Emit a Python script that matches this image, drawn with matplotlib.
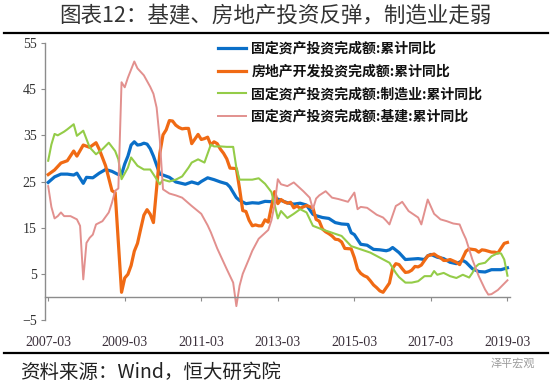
import matplotlib
matplotlib.use("Agg")
import matplotlib.pyplot as plt
from matplotlib.lines import Line2D

# ---- data (month offset from 2007-03, value %) ----
tick_labels = ["2007-03", "2009-03", "2011-03", "2013-03", "2015-03", "2017-03", "2019-03"]
tick_months = [0, 24, 48, 72, 96, 120, 144]
y_ticks = [-5, 5, 15, 25, 35, 45, 55]

labels = ["固定资产投资完成额:累计同比",
          "房地产开发投资完成额:累计同比",
          "固定资产投资完成额:制造业:累计同比",
          "固定资产投资完成额:基建:累计同比"]

fai_m = [0,2,4,6,8,9,11,12,14,16,18,20,22,23,24,25,26,27,28,29,30,31,32,33,35,36,38,40,43,45,
         47,48,50,52,54,56,57,59,60,62,64,66,68,71,72,73,75,77,79,81,83,84,86,88,90,92,94,95,96,98,
         100,102,104,106,107,108,110,112,114,116,118,119,120,122,124,126,128,130,131,133,135,137,139,142,143,144]
fai_v = [24.8,26.0,26.6,26.6,26.4,26.8,24.6,25.9,25.8,26.8,27.6,27.2,26.5,26.5,28.8,30.5,32.9,33.6,32.9,33.0,
         33.3,33.1,32.1,30.5,26.6,26.4,25.9,24.9,24.4,24.9,24.5,25.0,25.8,25.4,24.9,24.5,23.8,21.5,20.9,20.2,
         20.4,20.3,20.7,20.6,21.2,20.9,20.4,20.1,20.3,19.9,17.9,17.6,17.2,17.0,16.1,15.8,15.7,13.9,13.5,11.4,
         11.2,10.3,10.2,10.0,10.2,10.7,9.6,8.1,8.2,8.3,8.1,8.9,9.2,8.6,8.3,7.5,7.2,7.9,7.5,6.1,
         5.5,5.4,5.9,5.9,6.1,6.3]

re_m = [0,2,4,6,8,9,11,13,15,16,18,20,21,23,24,25,26,27,28,29,30,31,32,33,35,36,37,38,39,40,
        41,42,43,44,45,47,48,49,50,51,52,53,54,55,56,57,59,60,61,62,63,64,65,66,67,68,69,71,72,73,
        74,75,76,77,78,79,80,81,83,84,85,86,87,88,89,90,91,92,93,95,96,97,98,99,100,101,102,103,104,105,
        107,108,109,110,111,112,113,114,115,116,117,119,120,121,122,123,124,125,126,127,
        128,129,131,132,133,134,135,136,137,138,139,140,141,143,144]
re_v = [26.5,27.5,29.0,29.5,31.6,30.5,32.9,32.4,33.4,32.0,28.4,23.0,22.6,1.0,4.1,4.9,6.8,9.9,11.6,14.7,
        17.7,18.9,17.9,16.1,31.1,35.1,36.2,38.2,38.1,37.2,36.7,36.4,36.5,36.5,33.2,35.2,34.1,34.3,34.6,32.9,
        33.6,33.2,32.0,31.1,29.9,27.9,27.8,23.5,18.7,18.5,16.6,15.4,15.6,15.4,15.4,16.7,16.2,22.8,20.2,21.1,
        20.6,20.3,20.5,19.3,19.7,19.2,19.5,19.8,19.3,16.8,16.4,14.7,14.1,13.7,13.2,12.5,12.4,11.9,10.5,10.4,
        8.5,6.0,5.1,4.6,4.3,3.5,2.6,2.0,1.3,1.0,3.0,6.2,7.2,7.0,6.1,5.3,5.4,5.8,6.6,6.5,
        6.9,8.9,9.1,9.3,8.8,8.5,7.9,7.9,8.1,7.8,7.5,7.0,9.9,10.4,10.3,10.2,9.7,10.2,10.1,9.9,
        9.7,9.7,9.5,11.6,11.8]

mfg_m = [0,1,2,3,5,6,8,9,11,13,15,17,19,21,22,23,25,26,28,30,32,34,35,36,38,40,42,44,45,47,
         49,51,52,54,56,58,59,60,62,64,66,68,70,71,72,73,75,77,79,81,83,86,89,92,95,98,101,104,107,109,
         110,112,114,116,118,120,121,122,124,126,128,130,132,133,134,135,137,139,141,142,143,144]
mfg_v = [29.5,33.0,35.3,35.0,35.8,36.3,37.4,34.9,36.0,32.4,30.9,32.0,33.4,31.6,29.8,25.5,28.0,30.2,28.4,27.6,
         27.6,25.5,24.4,25.4,25.0,25.4,26.1,28.0,29.1,29.8,29.1,33.0,32.6,32.6,32.5,32.5,28.0,25.4,25.4,25.4,
         25.7,24.5,22.7,20.0,17.0,18.6,17.1,18.0,19.0,18.3,15.4,14.6,13.9,13.2,11.0,10.3,9.6,8.5,7.4,5.2,
         4.3,3.1,3.1,3.4,4.5,4.5,5.6,4.8,5.2,4.5,4.1,4.8,4.2,5.2,6.5,7.1,7.4,8.8,9.5,9.4,
         8.1,4.6]

infra_m = [0,1,2,3,4,5,7,9,10,11,12,13,14,15,17,19,20,21,22,23,24,25,27,28,30,32,33,34,35,36,
           38,40,42,45,48,50,51,53,54,56,58,59,60,61,63,64,66,69,70,71,72,73,75,77,80,82,83,84,85,87,
           89,91,94,96,97,98,100,103,105,106,107,109,110,111,113,116,117,119,121,123,
           125,127,129,130,131,133,135,137,138,139,141,143,144]
infra_v = [24.0,19.5,17.0,17.5,18.3,17.5,17.5,16.8,15.4,3.8,11.7,12.8,13.5,15.7,16.4,18.3,20.4,23.0,23.5,46.5,
           45.4,47.5,51.0,49.5,48.0,45.5,44.0,41.0,34.0,23.3,22.4,22.0,21.5,19.7,18.0,15.5,14.0,10.5,9.0,6.0,
           3.1,-2.0,2.4,5.0,8.3,10.0,12.6,14.5,16.6,20.0,25.5,24.4,24.0,24.8,22.9,21.5,19.0,21.3,22.0,22.9,
           21.5,21.2,20.6,22.6,19.0,19.5,19.3,17.8,17.2,16.5,15.7,19.7,20.1,20.6,18.6,17.2,15.7,21.1,18.0,16.8,
           16.4,15.9,15.7,14.0,12.5,8.1,4.5,1.6,0.5,0.6,1.5,2.9,3.6]

colors = ["#0a6fc8", "#f06a14", "#94cc48", "#e2908e"]
widths = [2.3, 2.3, 1.5, 1.4]

CJK = ["Noto Sans CJK SC", "DejaVu Sans"]
SERIF = ["Liberation Serif", "DejaVu Serif"]

fig = plt.figure(figsize=(5.5, 3.84), dpi=100)
W, H = 550.0, 384.0
ax = fig.add_axes([45 / W, 1 - 320 / H, (510 - 45) / W, (320 - 43) / H])

series = [(fai_m, fai_v), (re_m, re_v), (mfg_m, mfg_v), (infra_m, infra_v)]
handles = []
for (m, v), c, lw, lab in zip(series, colors, widths, labels):
    h, = ax.plot(m, v, color=c, lw=lw, label=lab, solid_joinstyle="round")
    handles.append(h)

ax.set_xlim(-1, 144.8)
ax.set_ylim(-5, 55)
ax.set_yticks(y_ticks)
ax.set_xticks(tick_months)
ax.set_xticklabels(tick_labels)

for s in ["top", "right"]:
    ax.spines[s].set_visible(False)
ax.spines["bottom"].set_position(("data", 0))
ax.spines["left"].set_color("#8c8c8c")
ax.spines["bottom"].set_color("#8c8c8c")
ax.spines["left"].set_linewidth(1.0)
ax.spines["bottom"].set_linewidth(1.0)

ax.tick_params(axis="y", direction="out", length=3, color="#8c8c8c", pad=3,
               labelsize=10, labelcolor="#333333")
ax.tick_params(axis="x", direction="out", length=3, color="#8c8c8c", pad=25,
               labelsize=10, labelcolor="#3a2f3a")
for t in ax.get_xticklabels() + ax.get_yticklabels():
    t.set_fontfamily(SERIF)

leg = ax.legend(handles=handles, loc="upper left",
                bbox_to_anchor=(218 / W, 1 - 42 / H), bbox_transform=fig.transFigure,
                frameon=False, prop={"family": CJK, "size": 10, "weight": "bold"},
                handlelength=2.0, handletextpad=0.4, labelspacing=0.62,
                borderpad=0, borderaxespad=0)
for t in leg.get_texts():
    t.set_color("#111111")

fig.text(0.5, 1 - 15 / H, "图表12：基建、房地产投资反弹，制造业走弱",
         ha="center", va="center", fontsize=15.5, color="#333333", family=CJK)
fig.add_artist(Line2D([4 / W, 548 / W], [1 - 33 / H, 1 - 33 / H], color="black", lw=1.6))
fig.add_artist(Line2D([4 / W, 548 / W], [1 - 353 / H, 1 - 353 / H], color="black", lw=1.6))
fig.text(20 / W, 1 - 372 / H, "资料来源：Wind，恒大研究院", ha="left", va="center",
         fontsize=14, color="#222222", family=CJK, style="italic")
fig.text(535 / W, 1 - 363 / H, "泽平宏观", ha="right", va="center",
         fontsize=8, color="#9a9a9a", family=CJK)

fig.savefig("out.png", dpi=100)
